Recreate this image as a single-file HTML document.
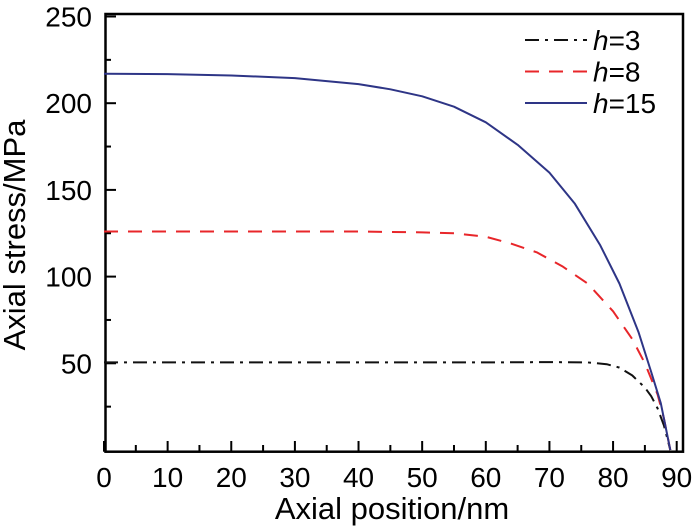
<!DOCTYPE html>
<html><head><meta charset="utf-8"><style>
body{margin:0;background:#fff;}
svg{display:block;font-family:"Liberation Sans",Arial,sans-serif;}
</style></head><body>
<svg id="chart" width="700" height="530">
<g id="axes"></g>
<g id="series"></g>
<g id="legend"></g>
<text x="392" y="519" font-size="31" text-anchor="middle">Axial position/nm</text>
<text transform="translate(25,235) rotate(-90)" font-size="31" text-anchor="middle">Axial stress/MPa</text>
</svg>
<script>
const xTicks=[0,10,20,30,40,50,60,70,80,90];
const yTicks=[50,100,150,200,250];
const seriesNames=["h=3","h=8","h=15"];
const xs3=[0,10,20,30,40,50,60,70,76,79,81,83,85,86,87,88,89];
const ys3=[50.5,50.5,50.5,50.5,50.5,50.5,50.5,50.7,50.5,49.5,47.5,43,36,31,24,14,0];
const xs8=[0,10,20,30,40,50,55,60,64,68,72,76,80,83,85,87,88,89];
const ys8=[126,126,126,126,126,125.5,125,123,119,114,106,96,80,64,50,32,18,0];
const xs15=[0,10,20,30,40,45,50,55,60,65,70,74,78,81,84,86,87.5,89];
const ys15=[217,216.8,216,214.5,211,208,204,198,189,176,160,142,118,96,68,45,27,0];
const colors=["#111","#e8262a","#2e3586"];
const dashes=["14,6,3,6","14,10",""];

const X0=104,X1=676.7,Y0=450,PX=(X1-X0)/90,PY=86.7/50;
const sx=v=>X0+v*PX, sy=v=>Y0-v*PY;
const NS="http://www.w3.org/2000/svg";
function mk(tag,attrs,parent){const e=document.createElementNS(NS,tag);for(const k in attrs)e.setAttribute(k,attrs[k]);parent.appendChild(e);return e;}
const axes=document.getElementById('axes');
const frame=mk('rect',{x:105.5,y:14,width:577.5,height:437.7,fill:'none',stroke:'#000','stroke-width':2.5},axes);


xTicks.forEach(t=>{
  const l=mk('line',{x1:sx(t),x2:sx(t),y1:451.7,y2:441,stroke:'#000','stroke-width':2},axes);
  
  
  if(t<90){const m=mk('line',{x1:sx(t+5),x2:sx(t+5),y1:451.7,y2:445,stroke:'#000','stroke-width':2},axes);
  
  }
  const tx=mk('text',{x:sx(t),y:487,'font-size':28,'text-anchor':'middle'},axes);tx.textContent=t;
  
  
});
yTicks.forEach(t=>{
  const l=mk('line',{x1:105.5,x2:116,y1:sy(t),y2:sy(t),stroke:'#000','stroke-width':2},axes);
  
  
  const m=mk('line',{x1:105.5,x2:111,y1:sy(t-25),y2:sy(t-25),stroke:'#000','stroke-width':2},axes);
  
  
  const tx=mk('text',{x:92,y:sy(t)+10,'font-size':28,'text-anchor':'end'},axes);tx.textContent=t;
  
  
});
const ser=document.getElementById('series');
[[xs3,ys3],[xs8,ys8],[xs15,ys15]].forEach((s,i)=>{
  const d=s[0].map((x,j)=>(j?'L':'M')+sx(x).toFixed(1)+','+sy(s[1][j]).toFixed(1)).join('');
  const p=mk('path',{d:d,fill:'none',stroke:colors[i],'stroke-width':2,'stroke-dasharray':dashes[i],'stroke-linejoin':'round'},ser);
  
  
});
const lg=document.getElementById('legend');
seriesNames.forEach((n,i)=>{
  const y=40+i*31.5;
  const l=mk('line',{x1:525,x2:587,y1:y,y2:y,stroke:colors[i],'stroke-width':2,'stroke-dasharray':dashes[i]},lg);
  
  
  const t=mk('text',{x:593,y:y+10,'font-size':28},lg);
  t.innerHTML='<tspan font-style="italic">h</tspan>='+n.split('=')[1];
  
  
});
</script>
</body></html>
